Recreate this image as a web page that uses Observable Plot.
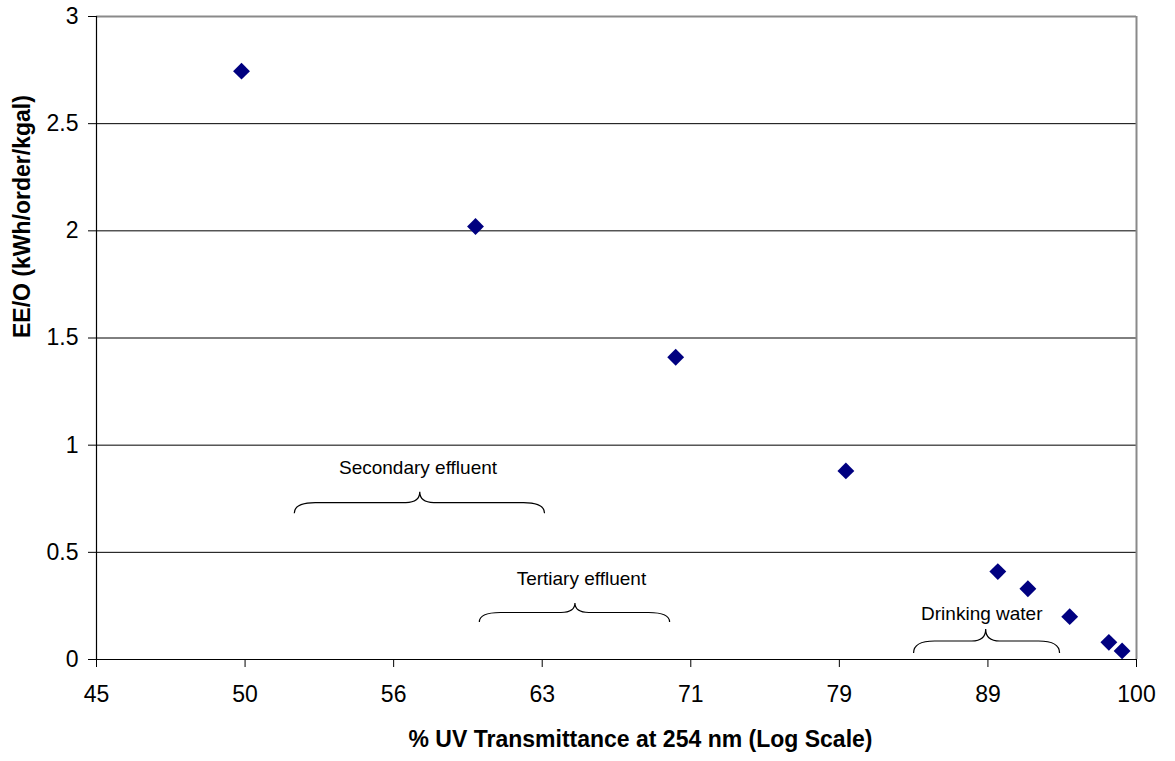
<!DOCTYPE html>
<html><head><meta charset="utf-8">
<script src="https://cdn.jsdelivr.net/npm/d3@7"></script>
<script src="https://cdn.jsdelivr.net/npm/@observablehq/plot@0.6"></script>
<style>body{margin:0;background:#fff} svg{font-family:"Liberation Sans",Arial,sans-serif}</style>
</head><body><div id="chart"></div>
<script>
// Data
const transmittance = [50.3, 60.2, 70.2, 80.0, 89.9, 92.0, 95.0, 97.9, 98.9];
const eeo = [2.745, 2.02, 1.41, 0.88, 0.41, 0.33, 0.20, 0.08, 0.04];
const xTickLabels = ["45", "50", "56", "63", "71", "79", "89", "100"];
const yTicks = [0, 0.5, 1, 1.5, 2, 2.5, 3];
const xMin = 45, xMax = 100;
// Annotation braces
const regionLabels = ["Secondary effluent", "Tertiary effluent", "Drinking water"];
const regionFrom = [52.4, 60.4, 84.3];
const regionTo = [63.5, 69.9, 94.3];
const regionMid = [57.7, 65.0, 89.1];
const braceEndY = [0.68, 0.173, 0.028];
const braceTipY = [0.78, 0.261, 0.14];
const labelX = [57.6, 65.3, 88.8];
const labelY = [0.895, 0.378, 0.215];
const xTitle = "% UV Transmittance at 254 nm (Log Scale)";
const yTitle = "EE/O (kWh/order/kgal)";

const points = transmittance.map((t, i) => ({t, e: eeo[i]}));
const xTickValues = xTickLabels.map((_, i) => xMin * Math.pow(xMax / xMin, i / (xTickLabels.length - 1)));
const regions = regionLabels.map((label, i) => ({label, x: labelX[i], y: labelY[i]}));

function braces(index, scales) {
  const g = d3.create("svg:g").attr("fill", "none").attr("stroke", "#000").attr("stroke-width", 1.2);
  regionLabels.forEach((_, i) => {
    const L = scales.x(regionFrom[i]), R = scales.x(regionTo[i]), M = scales.x(regionMid[i]);
    const yE = scales.y(braceEndY[i]), yT = scales.y(braceTipY[i]), yF = (yE + yT) / 2;
    const re = Math.min(21, (M - L) / 3), rt = 14;
    g.append("path").attr("d",
      `M${L},${yE}Q${L},${yF} ${L + re},${yF}H${M - rt}Q${M},${yF} ${M},${yT}` +
      `Q${M},${yF} ${M + rt},${yF}H${R - re}Q${R},${yF} ${R},${yE}`);
  });
  return g.node();
}

const chart = Plot.plot({
  width: 1175, height: 761,
  marginLeft: 96, marginRight: 39, marginTop: 16, marginBottom: 102,
  style: {fontFamily: "Liberation Sans, Arial, sans-serif", fontSize: "23px", color: "#000", background: "#fff"},
  x: {type: "log", domain: [xMin, xMax]},
  y: {domain: [0, 3]},
  marks: [
    Plot.ruleY(yTicks.slice(1, -1), {stroke: "#000", strokeWidth: 1}),
    Plot.ruleY([3], {stroke: "#8a8a8a", strokeWidth: 2}),
    Plot.ruleX([xMax], {stroke: "#8a8a8a", strokeWidth: 2}),
    Plot.ruleX([xMin], {stroke: "#000", strokeWidth: 1.2}),
    Plot.ruleY([0], {stroke: "#000", strokeWidth: 1.2}),
    Plot.axisX(xTickValues, {tickSize: 8, tickPadding: 18, fontSize: 23, label: null,
      tickFormat: d => xTickLabels[xTickValues.indexOf(d)]}),
    Plot.axisY(yTicks, {tickSize: 8, tickPadding: 10, fontSize: 23, label: null,
      tickFormat: d => String(d)}),
    Plot.dot(points, {x: "t", y: "e", symbol: "diamond2", r: 7.6, fill: "#000080", stroke: "none"}),
    braces,
    Plot.text(regions, {x: "x", y: "y", text: "label", fontSize: 19, fill: "#000"}),
    Plot.text([xTitle], {frameAnchor: "bottom", dx: 24, dy: 87, fontWeight: "bold", fontSize: 23, fill: "#000"}),
    Plot.text([yTitle], {frameAnchor: "left", rotate: -90, dx: -74, fontWeight: "bold", fontSize: 23, fill: "#000"})
  ]
});
document.getElementById("chart").appendChild(chart);
</script>
</body></html>
